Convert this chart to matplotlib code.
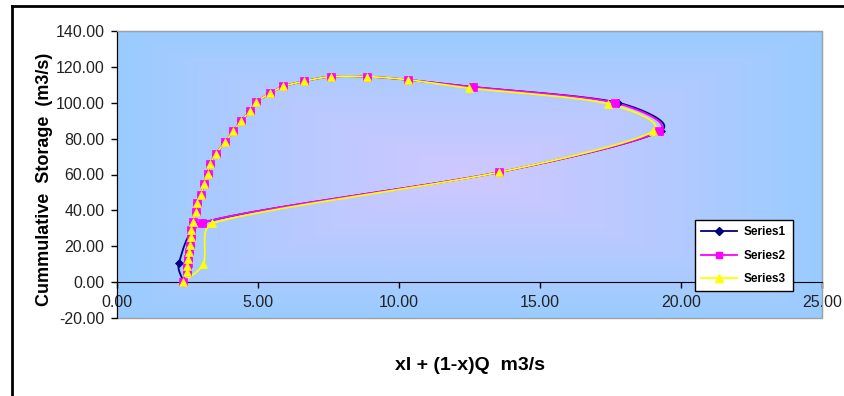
import numpy as np
import matplotlib
matplotlib.use("Agg")
import matplotlib.pyplot as plt
from matplotlib.lines import Line2D
from matplotlib.patches import Rectangle

plt.rcParams['font.family'] = ['Liberation Sans', 'DejaVu Sans']

# datos (xI + (1-x)Q , almacenamiento acumulado)
x_s2 = [2.35, 2.50, 3.03, 13.56, 19.22, 17.66, 12.62, 10.33, 8.85, 7.60, 6.63, 5.90,
        5.42, 4.94, 4.73, 4.38, 4.13, 3.82, 3.52, 3.29, 3.22, 3.09, 2.97, 2.85,
        2.79, 2.69, 2.64, 2.61, 2.58, 2.55, 2.52, 2.49, 2.47]
y_s2 = [0.3, 10.5, 33.1, 61.3, 84.2, 100.0, 108.8, 112.8, 114.6, 114.6, 112.0, 109.1,
        105.2, 100.4, 95.5, 89.7, 84.1, 78.0, 71.7, 65.7, 60.2, 54.6, 48.5, 43.9,
        38.9, 33.7, 29.1, 25.0, 20.7, 17.0, 12.8, 9.1, 5.9]

x_s1 = list(x_s2)
y_s1 = list(y_s2)
x_s1[1], y_s1[1] = 2.19, 10.5
x_s1[4], y_s1[4] = 19.30, 84.5
x_s1[5], y_s1[5] = 17.78, 100.0

x_s3 = list(x_s2)
y_s3 = list(y_s2)
x_s3[1], y_s3[1] = 3.06, 10.0
x_s3[2], y_s3[2] = 3.38, 32.8
x_s3[4], y_s3[4] = 19.00, 84.0
x_s3[5], y_s3[5] = 17.40, 99.5
x_s3[6], y_s3[6] = 12.48, 108.2

x_ticks = [0, 5, 10, 15, 20, 25]
y_ticks = [-20, 0, 20, 40, 60, 80, 100, 120, 140]

fig = plt.figure(figsize=(8.44, 3.96), dpi=100)
ax_pos = [117 / 844, 1 - 318 / 396, (822 - 117) / 844, (318 - 31) / 396]
ax = fig.add_axes(ax_pos)
ax.set_xlim(0, 25)
ax.set_ylim(-20, 140)

# escala en pixeles para suavizar como la linea suavizada de Excel
sx = ax_pos[2] * 844 / 25
sy = ax_pos[3] * 396 / 160


def smooth(xs, ys, n=24):
    P = np.column_stack([np.array(xs) * sx, np.array(ys) * sy])
    pts = [P[0]]
    m = len(P)
    for i in range(m - 1):
        p0, p1 = P[i], P[i + 1]
        a = P[i - 1] if i > 0 else P[i]
        b = P[i + 2] if i + 2 < m else P[i + 1]
        d = np.linalg.norm(p1 - p0)
        t0 = p1 - a
        t1 = b - p0
        n0 = np.linalg.norm(t0)
        n1 = np.linalg.norm(t1)
        c1 = p0 + (t0 / n0) * min(n0 / 6, d / 3) if n0 > 0 else p0
        c2 = p1 - (t1 / n1) * min(n1 / 6, d / 3) if n1 > 0 else p1
        t = np.linspace(0, 1, n)[1:, None]
        seg = ((1 - t) ** 3) * p0 + 3 * ((1 - t) ** 2) * t * c1 + 3 * (1 - t) * t ** 2 * c2 + t ** 3 * p1
        pts.extend(seg)
    pts = np.array(pts)
    return pts[:, 0] / sx, pts[:, 1] / sy


# fondo degradado desde el centro
gx, gy = np.meshgrid(np.linspace(-1, 1, 300), np.linspace(-1, 1, 200))
tt = np.clip(np.maximum(np.abs(gx), np.abs(gy)) ** 1.2, 0, 1)
edge = np.array([153, 204, 255]) / 255
center = np.array([206, 200, 255]) / 255
img = center[None, None, :] * (1 - tt[..., None]) + edge[None, None, :] * tt[..., None]
ax.imshow(img, extent=[0, 25, -20, 140], aspect='auto', zorder=0, interpolation='bicubic')

series = [
    (x_s1, y_s1, '#000080', 'D', 4, '#000080', 'Series1'),
    (x_s2, y_s2, '#FF00FF', 's', 5.5, '#FF00FF', 'Series2'),
    (x_s3, y_s3, '#FFFF00', '^', 6, '#FFFF00', 'Series3'),
]
handles = []
for xs, ys, col, mk, ms, mfc, lab in series:
    lx, ly = smooth(xs, ys)
    ax.plot(lx, ly, color=col, lw=1.3, zorder=3)
    ax.plot(xs, ys, ls='none', marker=mk, ms=ms, mfc=mfc, mec=col, mew=0.5, zorder=4)
    handles.append(Line2D([], [], color=col, lw=1.3, marker=mk, ms=ms * 0.9, mfc=mfc, mec=col, label=lab))

ax.set_xticks(x_ticks)
ax.set_yticks(y_ticks)
ax.set_xticklabels(['%.2f' % v for v in x_ticks])
ax.set_yticklabels(['%.2f' % v for v in y_ticks])
ax.tick_params(axis='both', labelsize=11.5, colors='black', labelcolor='#222222',
               direction='out', length=4, width=1)
ax.tick_params(axis='x', pad=5)
ax.tick_params(axis='y', pad=5)

ax.spines['bottom'].set_position(('data', 0))
ax.spines['bottom'].set_color('black')
ax.spines['left'].set_color('black')
ax.spines['top'].set_color('#A0A0A0')
ax.spines['right'].set_color('#A0A0A0')
ax.add_patch(Rectangle((0, 0), 1, 1, transform=ax.transAxes, fill=False,
                       edgecolor='#A0A0A0', lw=1, zorder=1, clip_on=False))

fig.text(45 / 844, 1 - 179 / 396, 'Cummulative  Storage  (m3/s)', rotation=90,
         ha='center', va='center', fontsize=13, fontweight='bold')
fig.text(470 / 844, 1 - 366 / 396, 'xI + (1-x)Q  m3/s', ha='center', va='center',
         fontsize=14, fontweight='bold')

leg = fig.legend(handles=handles, loc='upper left', bbox_to_anchor=(695 / 844, 1 - 220 / 396),
                 prop={'weight': 'bold', 'size': 8.5}, frameon=True, fancybox=False,
                 edgecolor='black', framealpha=1, handlelength=3.0, labelspacing=0.95,
                 borderpad=0.55, handletextpad=0.6, borderaxespad=0)
leg.get_frame().set_linewidth(1)

# marco exterior del grafico
fig.add_artist(Line2D([12 / 844, 1], [1 - 6 / 396, 1 - 6 / 396], color='black', lw=2))
fig.add_artist(Line2D([12 / 844, 12 / 844], [0, 1 - 6 / 396], color='black', lw=2))

fig.savefig('out.png', dpi=100)
